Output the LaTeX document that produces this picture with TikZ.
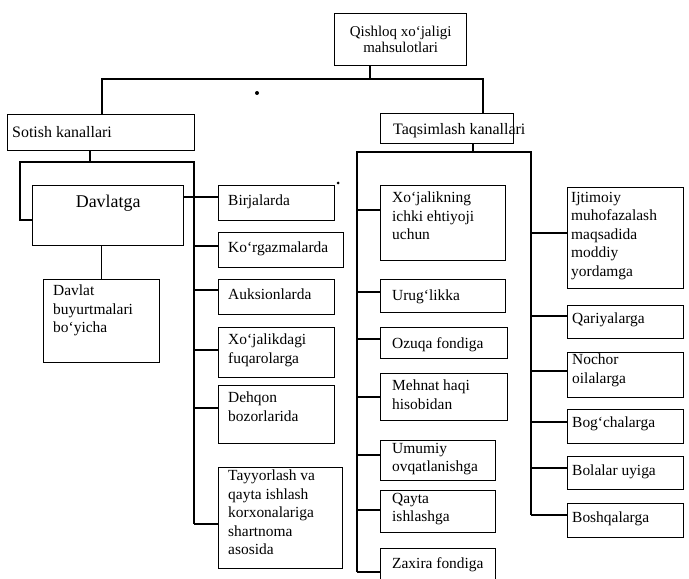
\documentclass[tikz,border=0pt]{standalone}
\usepackage{fontspec}
\setmainfont{Liberation Serif}
\newcommand\fntS{\fontsize{15.5}{18.5}\selectfont}
\newcommand\fntT{\fontsize{15}{16}\selectfont}
\newcommand\fntL{\fontsize{18}{21.6}\selectfont}
\newcommand\fntH{\fontsize{16}{19}\selectfont}
\begin{document}
\begin{tikzpicture}[x=1bp,y=-1bp,
  box/.style={draw, line width=1.4bp, inner sep=0pt, anchor=north west},
  txt/.style={inner sep=0pt, anchor=north west, align=left, font=\fntS, execute at begin node=\strut},
  link/.style={line width=1.3bp}]
\useasboundingbox (0,0) rectangle (689,579);
\clip (0,0) rectangle (689,579);
\newcommand\mkbox[5]{\node[box, minimum width=#4bp, minimum height=#5bp] (#1) at (#2,#3) {};}
% boxes
\mkbox{top}{334}{13}{132}{52}
\mkbox{sot}{7}{114}{187}{36}
\mkbox{taq}{380}{113}{133}{30}
\mkbox{dav}{32}{185}{151}{60}
\mkbox{dbu}{43}{279}{116}{83}
\mkbox{bir}{218}{185}{116}{35}
\mkbox{kor}{218}{232}{125}{35}
\mkbox{auk}{218}{279}{116}{35}
\mkbox{xfu}{218}{327}{116}{50}
\mkbox{deh}{218}{385}{116}{58}
\mkbox{tay}{218}{467}{124}{101}
\mkbox{xic}{380}{185}{125}{75}
\mkbox{uru}{380}{279}{125}{33}
\mkbox{ozu}{380}{327}{127}{31}
\mkbox{meh}{380}{373}{127}{47}
\mkbox{umu}{380}{440}{115}{40}
\mkbox{qay}{380}{490}{115}{42}
\mkbox{zax}{380}{548}{115}{45}
\mkbox{ijt}{567}{187}{116}{101}
\mkbox{qar}{567}{305}{116}{33}
\mkbox{noc}{567}{352}{116}{45}
\mkbox{bog}{567}{409}{116}{34}
\mkbox{bol}{567}{456}{116}{33}
\mkbox{bos}{567}{503}{116}{34}
% texts
\node[inner sep=0pt, anchor=north, align=center, font=\fntT, execute at begin node=\strut] (topt) at ([shift={(0,13)}]top.north) {Qishloq xo`jaligi\\mahsulotlari};
\node[txt, font=\fntH] (sott) at ([shift={(5,10)}]sot.north west) {Sotish kanallari};
\node[txt, font=\fntH] (taqt) at ([shift={(13,8)}]taq.north west) {Taqsimlash kanallari};
\node[inner sep=0pt, anchor=north, font=\fntL, execute at begin node=\strut] (davt) at ([shift={(0,7)}]dav.north) {Davlatga};
\node[txt] (dbut) at ([shift={(10,6)}]dbu.north west) {Davlat\\buyurtmalari\\bo`yicha};
\node[txt] (birt) at ([shift={(10,7)}]bir.north west) {Birjalarda};
\node[txt] (kort) at ([shift={(10,7)}]kor.north west) {Ko`rgazmalarda};
\node[txt] (aukt) at ([shift={(10,7)}]auk.north west) {Auksionlarda};
\node[txt] (xfut) at ([shift={(10,7)}]xfu.north west) {Xo`jalikdagi\\fuqarolarga};
\node[txt] (deht) at ([shift={(10,7)}]deh.north west) {Dehqon\\bozorlarida};
\node[txt] (tayt) at ([shift={(10,3)}]tay.north west) {Tayyorlash va\\qayta ishlash\\korxonalariga\\shartnoma\\asosida};
\node[txt] (xict) at ([shift={(12,7)}]xic.north west) {Xo`jalikning\\ichki ehtiyoji\\uchun};
\node[txt] (urut) at ([shift={(12,8)}]uru.north west) {Urug`likka};
\node[txt] (ozut) at ([shift={(12,8)}]ozu.north west) {Ozuqa fondiga};
\node[txt] (meht) at ([shift={(12,7)}]meh.north west) {Mehnat haqi\\hisobidan};
\node[txt] (umut) at ([shift={(12,3)}]umu.north west) {Umumiy\\ovqatlanishga};
\node[txt] (qayt) at ([shift={(12,3)}]qay.north west) {Qayta\\ishlashga};
\node[txt] (zaxt) at ([shift={(12,7)}]zax.north west) {Zaxira fondiga};
\node[txt] (ijtt) at ([shift={(4,5)}]ijt.north west) {Ijtimoiy\\muhofazalash\\maqsadida\\moddiy\\yordamga};
\node[txt] (qart) at ([shift={(5,5)}]qar.north west) {Qariyalarga};
\node[txt] (noct) at ([shift={(5,2)}]noc.north west) {Nochor\\oilalarga};
\node[txt] (bogt) at ([shift={(5,5)}]bog.north west) {Bog`chalarga};
\node[txt] (bolt) at ([shift={(5,6)}]bol.north west) {Bolalar uyiga};
\node[txt] (bost) at ([shift={(5,6)}]bos.north west) {Boshqalarga};
% bus
\coordinate (busT) at (370,79);
\coordinate (busL) at (102,79);
\coordinate (busR) at (483,79);
\draw[link] (busT |- top.south) -- (busT);
\draw[link] (busL |- sot.north) -- (busL) -- (busR) -- (busR |- taq.north);
% sotish frame
\coordinate (sf) at (90,162);
\coordinate (sfl) at (20,162);
\coordinate (sfr) at (194,162);
\draw[link] (sf |- sot.south) -- (sf);
\draw[link] (dav.west |- 0,220) -| (sfl) -- (sfr) -- (sfr |- 0,524);
\draw[link] (dav.east |- 0,197) -- (sfr |- 0,197);
\draw[link] (dbu.north |- dav.south) -- (dbu.north);
\foreach \n/\yy in {bir/197, kor/246, auk/290, xfu/350, deh/408, tay/524}
  \draw[link] (sfr |- 0,\yy) -- (\n.west |- 0,\yy);
% taqsimlash frame
\coordinate (tf) at (473,152);
\coordinate (tfl) at (357,152);
\coordinate (tfr) at (531,152);
\draw[link] (tf |- taq.south) -- (tf);
\draw[link] (tfl |- 0,572) -- (tfl) -- (tfr) -- (tfr |- 0,515);
\foreach \n/\yy in {xic/210, uru/292, ozu/339, meh/397, umu/455, qay/510, zax/572}
  \draw[link] (tfl |- 0,\yy) -- (\n.west |- 0,\yy);
\foreach \n/\yy in {ijt/233, qar/316, noc/371, bog/422, bol/468, bos/515}
  \draw[link] (tfr |- 0,\yy) -- (\n.west |- 0,\yy);
% specks
\fill (257,93) circle[radius=2bp];
\fill (338,183) circle[radius=1.5bp];
\end{tikzpicture}
\end{document}
